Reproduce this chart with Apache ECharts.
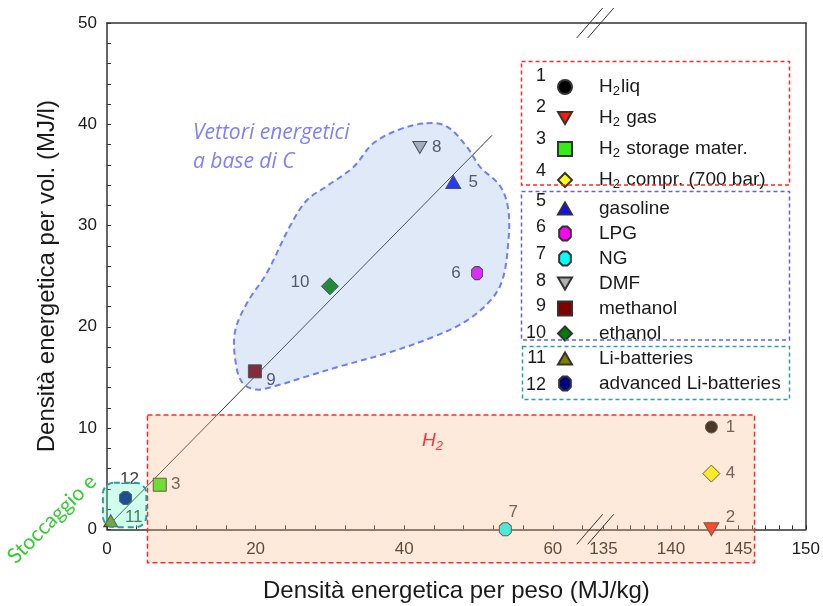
<!DOCTYPE html>
<html>
<head>
<meta charset="utf-8">
<script src="https://cdn.jsdelivr.net/npm/echarts@6/dist/echarts.min.js"></script>
<style>
  html, body { margin: 0; padding: 0; background: #ffffff; }
  #chart { width: 823px; height: 606px; }
</style>
</head>
<body>
<div id="chart"></div>
<script>
// Energy carriers: gravimetric (MJ/kg) vs volumetric (MJ/l) energy density
const carrierNames = ['H2liq', 'H2 gas', 'H2 storage mater.', 'H2 compr. (700 bar)', 'gasoline', 'LPG',
  'NG', 'DMF', 'methanol', 'ethanol', 'Li-batteries', 'advanced Li-batteries'];
const gravimetric = [143, 143, 7.1, 143, 46.6, 49.8, 53.6, 42.1, 19.9, 30.0, 0.5, 2.5];
const volumetric = [10.1, 0, 4.4, 5.5, 34.3, 25.3, 0, 37.7, 15.6, 24.0, 0.85, 3.1];

// Axis tick labels (x axis is broken between the two segments)
const xLabelsLow = [0, 20, 40, 60];
const xLabelsHigh = [135, 140, 145, 150];
const yLabels = [0, 10, 20, 30, 40, 50];

// Reference line through the carbon-based carriers
const trendLine = [[0.5, 0.6], [51.8, 38.9]];

// Outline of the carbon-based carriers region (data coordinates)
const carbonRegion = [[43.0, 40.1], [45.7, 39.8], [48.4, 37.8], [50.2, 35.8], [52.9, 33.9], [54.0, 31.6],
  [54.0, 28.3], [53.2, 24.6], [51.6, 22.6], [48.4, 20.6], [43.9, 19.0], [37.7, 17.4], [31.4, 16.1],
  [26.9, 15.1], [22.4, 14.1], [20.1, 13.8], [18.3, 14.4], [17.4, 16.1], [17.2, 19.4], [18.8, 22.3],
  [21.5, 25.3], [24.6, 29.9], [26.9, 32.5], [29.6, 33.9], [33.2, 35.8], [35.8, 38.1], [39.4, 39.5]];
// Hydrogen box: first corner on the low x segment, second on the high x segment
const hydrogenBox = [[5.45, 11.3], [146.2, -3.3]];
// Battery box (low x segment)
const batteryBox = [[-0.55, 4.6], [5.3, 0.2]];

const BREAK_LOW = 65.9, BREAK_HIGH = 134.5;

const FONT = '"Liberation Sans", Arial, sans-serif';
const INK = '#1a1a1a';

const OCTAGON = 'path://M3,0 L7,0 L10,3 L10,9 L7,12 L3,12 L0,9 L0,3 Z';
const TRI_DOWN = 'path://M0,0 L20,0 L10,17 Z';
const TRI_UP = 'path://M10,0 L20,17 L0,17 Z';

// Marker look for each carrier
const markStyle = [
  { symbol: 'circle', size: 12, color: '#000000' },
  { symbol: TRI_DOWN, size: [15, 13], color: '#ff1a00' },
  { symbol: 'rect', size: 13, color: '#33ee11' },
  { symbol: 'diamond', size: 17, color: '#ffff00' },
  { symbol: TRI_UP, size: [15, 13], color: '#1010ff' },
  { symbol: OCTAGON, size: [11, 13], color: '#ff00ff' },
  { symbol: OCTAGON, size: [12, 13], color: '#00ffff' },
  { symbol: TRI_DOWN, size: [14, 12], color: '#b0b0b0' },
  { symbol: 'rect', size: 13, color: '#800000' },
  { symbol: 'diamond', size: 17, color: '#008000' },
  { symbol: TRI_UP, size: [14, 12], color: '#808000' },
  { symbol: OCTAGON, size: [12, 13], color: '#000080' }
];
// Number label offset from each marker centre (px)
const labelOffset = [[19, 0], [19, -12], [16, 0], [19, 0], [20, 0], [-21, 0],
  [8, -17], [17, 0], [16, 9], [-30, -4], [23, -3], [4, -19]];

function range(a, b, step) { const r = []; for (let v = a; v <= b + 1e-9; v += step) r.push(v); return r; }

const chart = echarts.init(document.getElementById('chart'), null, { renderer: 'canvas' });

const tickStyle = { show: true, inside: true, length: 4, lineStyle: { color: '#333', width: 1 } };
const lineStyle = { color: '#333', width: 1.5 };
const labelStyle = { color: INK, fontSize: 17, fontFamily: FONT };

const LEGEND_FS = 19;
const legendRich = {
  f: { fontSize: LEGEND_FS, fontFamily: FONT, color: INK, lineHeight: 20, padding: [0, 0, 0, 22] },
  n: { fontSize: LEGEND_FS, fontFamily: FONT, color: INK, lineHeight: 20 },
  s: { fontSize: 13, fontFamily: FONT, color: INK, lineHeight: 20, padding: [9, 1, 0, 0] }
};
const legendFormatter = name => {
  const m = name.match(/^H2(.*)$/);
  return m ? '{f|H}{s|2}{n|' + m[1] + '}' : '{f|' + name + '}';
};

const scatterSeries = carrierNames.map((name, i) => {
  const hi = gravimetric[i] > BREAK_HIGH ? 1 : 0;
  const st = markStyle[i];
  return {
    type: 'scatter',
    name,
    xAxisIndex: hi, yAxisIndex: hi,
    data: [[gravimetric[i], volumetric[i]]],
    symbol: st.symbol,
    symbolSize: st.size,
    itemStyle: { color: st.color, borderColor: '#333', borderWidth: 1, opacity: 1 },
    label: {
      show: true, position: 'inside', formatter: String(i + 1),
      offset: labelOffset[i], color: '#404040', fontSize: 17, fontFamily: FONT,
      align: 'center', verticalAlign: 'middle'
    },
    emphasis: { disabled: true },
    clip: false,
    z: 3
  };
});

const legendBase = {
  orient: 'vertical', left: 557, padding: 0,
  itemWidth: 14, itemHeight: 14, selectedMode: false, formatter: legendFormatter,
  textStyle: { rich: legendRich, color: INK, fontSize: LEGEND_FS, fontFamily: FONT }
};

const option = {
  animation: false,
  backgroundColor: '#ffffff',
  grid: [
    { left: 107, right: 823 - 596.7, top: 23, bottom: 606 - 529.3 },
    { left: 596.7, right: 823 - 806.7, top: 23, bottom: 606 - 529.3 }
  ],
  xAxis: [
    {
      type: 'value', gridIndex: 0, min: 0, max: BREAK_LOW, position: 'bottom',
      axisLine: { show: true, onZero: false, lineStyle },
      axisTick: Object.assign({ customValues: range(0, 64, 4) }, tickStyle),
      axisLabel: Object.assign({ customValues: xLabelsLow, margin: 12 }, labelStyle),
      splitLine: { show: false }
    },
    {
      type: 'value', gridIndex: 1, min: BREAK_HIGH, max: 150, position: 'bottom',
      axisLine: { show: true, onZero: false, lineStyle },
      axisTick: Object.assign({ customValues: range(135, 150, 1) }, tickStyle),
      axisLabel: Object.assign({ customValues: xLabelsHigh, margin: 12 }, labelStyle),
      splitLine: { show: false }
    },
    {
      type: 'value', gridIndex: 0, min: 0, max: BREAK_LOW, position: 'top',
      axisLine: { show: true, onZero: false, lineStyle },
      axisTick: { show: false }, axisLabel: { show: false }, splitLine: { show: false }
    },
    {
      type: 'value', gridIndex: 1, min: BREAK_HIGH, max: 150, position: 'top',
      axisLine: { show: true, onZero: false, lineStyle },
      axisTick: { show: false }, axisLabel: { show: false }, splitLine: { show: false }
    }
  ],
  yAxis: [
    {
      type: 'value', gridIndex: 0, min: 0, max: 50, position: 'left',
      axisLine: { show: true, onZero: false, lineStyle },
      axisTick: Object.assign({ customValues: range(0, 50, 2) }, tickStyle),
      axisLabel: Object.assign({ customValues: yLabels, margin: 10 }, labelStyle),
      splitLine: { show: false },
      name: 'Densità energetica per vol. (MJ/l)',
      nameLocation: 'middle', nameGap: 48, nameRotate: 90,
      nameTextStyle: { color: INK, fontSize: 24, fontFamily: FONT }
    },
    {
      type: 'value', gridIndex: 1, min: 0, max: 50, position: 'right',
      axisLine: { show: true, onZero: false, lineStyle },
      axisTick: { show: false }, axisLabel: { show: false }, splitLine: { show: false }
    }
  ],
  legend: [
    Object.assign({ data: carrierNames.slice(0, 4), top: 76, itemGap: 9 }, legendBase),
    Object.assign({ data: carrierNames.slice(4), top: 199, itemGap: 6 }, legendBase)
  ],
  series: [
    {
      type: 'line', name: 'trend', xAxisIndex: 0, yAxisIndex: 0,
      data: trendLine, showSymbol: false, symbol: 'none', silent: true,
      lineStyle: { color: '#333', width: 1 }, z: 1, clip: false
    }
  ].concat(scatterSeries)
};

chart.setOption(option);

// Overlays placed from data coordinates through the axes
const toPx = (g, p) => chart.convertToPixel({ xAxisIndex: g, yAxisIndex: g }, p);
const hA = toPx(0, hydrogenBox[0]);
const hB = toPx(1, hydrogenBox[1]);
const bA = toPx(0, batteryBox[0]);
const bB = toPx(0, batteryBox[1]);
const blob = carbonRegion.map(p => toPx(0, p));
const breakX = toPx(0, [BREAK_LOW, 0])[0];
const yBottom = toPx(0, [0, 0])[1];
const yTop = toPx(0, [0, 50])[1];
const frameLeft = toPx(0, [0, 0])[0];
const frameRight = toPx(1, [150, 0])[0];

function slashes(yc) {
  return [breakX - 7, breakX + 4].map(cx => ({
    type: 'line', z: 60,
    shape: { x1: cx - 13, y1: yc + 15, x2: cx + 13, y2: yc - 15 },
    style: { stroke: '#333', lineWidth: 1 }
  }));
}

const captionFont = 'italic 21px "Open Sans", Lato, sans-serif';

const graphics = [
  // carbon-based carriers region
  {
    type: 'polygon', z: 40,
    shape: { points: blob, smooth: 0.35 },
    style: { fill: 'rgba(130,170,225,0.26)', stroke: '#6f7ff2', lineWidth: 2, lineDash: [6, 4] }
  },
  // hydrogen region
  {
    type: 'rect', z: 40,
    shape: { x: hA[0], y: hA[1], width: hB[0] - hA[0], height: hB[1] - hA[1] },
    style: { fill: 'rgba(250,185,135,0.3)', stroke: '#ff2a2a', lineWidth: 1.5, lineDash: [5, 3] }
  },
  // battery region
  {
    type: 'rect', z: 40,
    shape: { x: bA[0], y: bA[1], width: bB[0] - bA[0], height: bB[1] - bA[1], r: 11 },
    style: { fill: 'rgba(100,255,200,0.3)', stroke: '#2a9d9d', lineWidth: 2, lineDash: [6, 4] }
  },
  // legend frames
  {
    type: 'rect', z: 45, shape: { x: 521.5, y: 61.5, width: 268, height: 123.5 },
    style: { fill: null, stroke: '#ff2a2a', lineWidth: 1.5, lineDash: [4, 3] }
  },
  {
    type: 'rect', z: 45, shape: { x: 521.5, y: 191.5, width: 268, height: 148.5 },
    style: { fill: null, stroke: '#6060f0', lineWidth: 1.5, lineDash: [4, 3] }
  },
  {
    type: 'rect', z: 45, shape: { x: 522.5, y: 346.5, width: 267, height: 53 },
    style: { fill: null, stroke: '#2aa0a0', lineWidth: 1.5, lineDash: [4, 3] }
  },
  // region captions
  {
    type: 'text', z: 60, x: 193, y: 133,
    style: { text: 'Vettori energetici', fill: '#7f7fff', font: captionFont, verticalAlign: 'middle' }
  },
  {
    type: 'text', z: 60, x: 193, y: 162,
    style: { text: 'a base di C', fill: '#7f7fff', font: captionFont, verticalAlign: 'middle' }
  },
  {
    type: 'text', z: 60, x: 422, y: 441,
    style: {
      text: '{a|H}{b|2}', verticalAlign: 'middle',
      rich: {
        a: { fill: '#ff3333', fontSize: 19, fontStyle: 'italic', fontFamily: FONT, lineHeight: 20 },
        b: { fill: '#ff3333', fontSize: 13, fontStyle: 'italic', fontFamily: FONT, lineHeight: 20, padding: [10, 0, 0, 0] }
      }
    }
  },
  {
    type: 'text', z: 60, x: 52, y: 519, rotation: Math.PI / 4,
    style: { text: 'Stoccaggio e', fill: '#33cc33', font: '21px Lato, "Open Sans", sans-serif', align: 'center', verticalAlign: 'middle' }
  },
  // x axis title
  {
    type: 'text', z: 60, x: (frameLeft + frameRight) / 2, y: 591,
    style: { text: 'Densità energetica per peso (MJ/kg)', fill: INK, font: '24px ' + FONT, align: 'center', verticalAlign: 'middle' }
  }
].concat(slashes(yBottom), slashes(yTop));

// Legend item numbers
const legendNumberY = [76, 107, 139, 171.5, 201.5, 227.5, 254, 281, 306, 333, 358, 385];
legendNumberY.forEach((y, i) => {
  graphics.push({
    type: 'text', z: 60, x: 546, y,
    style: { text: String(i + 1), fill: INK, font: '18px ' + FONT, align: 'right', verticalAlign: 'middle' }
  });
});

chart.setOption({ graphic: graphics });
</script>
</body>
</html>
